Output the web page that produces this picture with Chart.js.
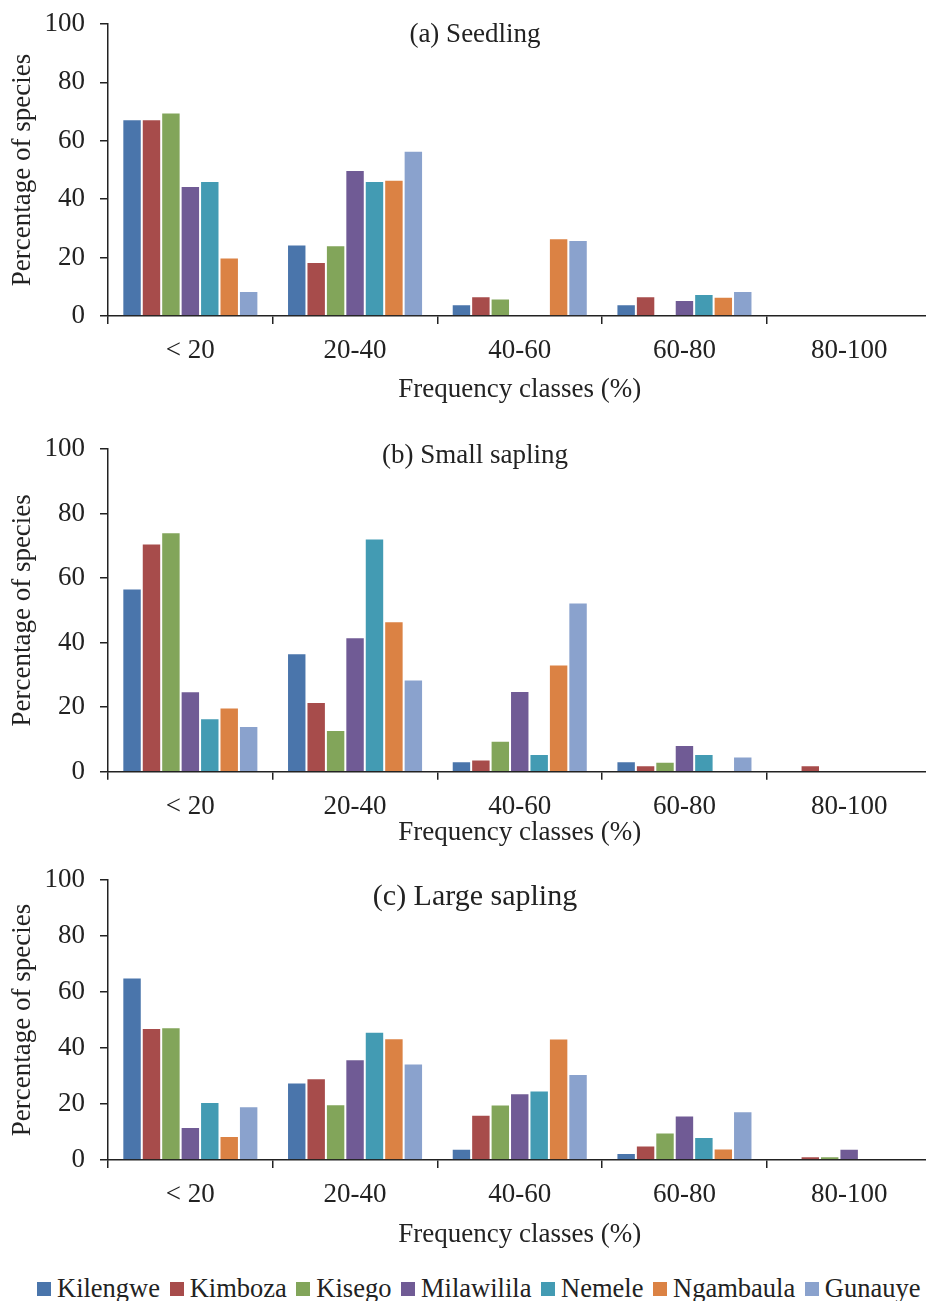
<!DOCTYPE html>
<html>
<head>
<meta charset="utf-8">
<script src="https://cdn.jsdelivr.net/npm/chart.js@4.4.1/dist/chart.umd.min.js"></script>
<style>
  html, body { margin:0; padding:0; background:#fff; width:926px; height:1301px; overflow:hidden; position:relative; }
  .pane { position:absolute; left:0; width:940px; }
  #legend { position:absolute; left:37px; top:1273px; display:flex; white-space:nowrap;
    font-family:"Liberation Serif","Times New Roman",serif; font-size:26.5px; color:#222; line-height:30px; }
  #legend .item { display:flex; align-items:center; margin-right:9.6px; }
  #legend .sw { width:14px; height:14px; margin-right:6px; margin-top:2px; }
</style>
</head>
<body>
<div class="pane" style="top:0;height:410px"><canvas id="ca"></canvas></div>
<div class="pane" style="top:410px;height:443px"><canvas id="cb"></canvas></div>
<div class="pane" style="top:853px;height:402px"><canvas id="cc"></canvas></div>
<div id="legend"></div>
<script>
// ---- data ----
const categories = ["< 20", "20-40", "40-60", "60-80", "80-100"];
const sites = ["Kilengwe", "Kimboza", "Kisego", "Milawilila", "Nemele", "Ngambaula", "Gunauye"];
const colors = ["#4A75AB", "#A74C4B", "#82A55A", "#705B95", "#439BB3", "#DB8244", "#8AA2CD"];
const yTicks = [0, 20, 40, 60, 80, 100];

// (a) Seedling: values per site across categories
const seedlingKilengwe   = [67.4, 24.5, 4.0, 4.0, 0];
const seedlingKimboza    = [67.4, 18.5, 6.8, 6.8, 0];
const seedlingKisego     = [69.7, 24.2, 6.0, 0, 0];
const seedlingMilawilila = [44.5, 50.0, 0, 5.5, 0];
const seedlingNemele     = [46.2, 46.2, 0, 7.5, 0];
const seedlingNgambaula  = [20.0, 46.7, 26.6, 6.6, 0];
const seedlingGunauye    = [8.6, 56.6, 26.0, 8.6, 0];

// (b) Small sapling
const smallKilengwe   = [56.8, 36.7, 3.2, 3.2, 0];
const smallKimboza    = [70.7, 21.6, 3.8, 2.0, 2.0];
const smallKisego     = [74.2, 12.9, 9.6, 3.1, 0];
const smallMilawilila = [24.9, 41.7, 25.0, 8.3, 0];
const smallNemele     = [16.6, 72.3, 5.5, 5.5, 0];
const smallNgambaula  = [19.9, 46.6, 33.2, 0, 0];
const smallGunauye    = [14.2, 28.6, 52.4, 4.7, 0];

// (c) Large sapling
const largeKilengwe   = [65.2, 27.7, 4.0, 2.5, 0];
const largeKimboza    = [47.1, 29.2, 16.2, 5.2, 1.3];
const largeKisego     = [47.4, 19.9, 19.8, 9.8, 1.3];
const largeMilawilila = [11.8, 36.0, 23.8, 15.9, 4.0];
const largeNemele     = [20.7, 45.8, 24.8, 8.2, 0];
const largeNgambaula  = [8.6, 43.5, 43.4, 4.1, 0];
const largeGunauye    = [19.2, 34.5, 30.7, 17.4, 0];

const panelTitles = ["(a) Seedling", "(b) Small sapling", "(c) Large sapling"];
const xTitle = "Frequency classes (%)";
const yTitle = "Percentage of species";

// ---- chart building ----
const SERIF = '"Liberation Serif","Times New Roman",serif';
const INK = '#222';
const FS = 27;

const panelTitlePlugin = {
  id: 'panelTitle',
  afterDraw(chart, args, opts) {
    const ctx = chart.ctx;
    ctx.save();
    ctx.font = opts.size + 'px ' + SERIF;
    ctx.fillStyle = INK;
    ctx.textAlign = 'center';
    ctx.textBaseline = 'middle';
    ctx.fillText(opts.text, opts.x, opts.y);
    ctx.restore();
  }
};

function makeChart(id, seriesList, title, titleY, titleSize, padTop, xHeight) {
  const datasets = sites.map((s, i) => ({
    label: s,
    data: seriesList[i],
    backgroundColor: colors[i],
    borderColor: 'rgba(255,255,255,0.55)',
    borderWidth: 1,
    categoryPercentage: 0.826,
    barPercentage: 1.0
  }));
  return new Chart(document.getElementById(id), {
    type: 'bar',
    data: { labels: categories, datasets },
    plugins: [panelTitlePlugin],
    options: {
      responsive: true,
      maintainAspectRatio: false,
      animation: false,
      layout: { padding: { top: padTop, right: 8.5, bottom: 0, left: 0 } },
      plugins: {
        legend: { display: false },
        tooltip: { enabled: false },
        panelTitle: { text: title, x: 475, y: titleY, size: titleSize }
      },
      scales: {
        x: {
          grid: { display: true, drawOnChartArea: false, drawTicks: true, tickLength: 8, color: INK, lineWidth: 1.5, offset: true },
          border: { display: true, color: INK, width: 1.5 },
          ticks: { color: INK, font: { family: SERIF, size: FS, lineHeight: 1.2 }, padding: 11, maxRotation: 0 },
          title: { display: true, text: xTitle, color: INK, font: { family: SERIF, size: FS, lineHeight: 1.2 }, padding: { top: 0, bottom: 4 } },
          afterFit(scale) { scale.height = xHeight; }
        },
        y: {
          min: 0, max: 100,
          afterBuildTicks(scale) { scale.ticks = yTicks.map(v => ({ value: v })); },
          grid: { display: true, drawOnChartArea: false, drawTicks: true, tickLength: 8, color: INK, lineWidth: 1.5 },
          border: { display: true, color: INK, width: 1.5 },
          ticks: { color: INK, font: { family: SERIF, size: FS, lineHeight: 0.5 }, padding: 15 },
          title: { display: true, text: yTitle, color: INK, font: { family: SERIF, size: FS, lineHeight: 1.2 }, padding: { top: 7, bottom: 0 } },
          afterFit(scale) { scale.width = 108; }
        }
      }
    }
  });
}

makeChart('ca', [seedlingKilengwe, seedlingKimboza, seedlingKisego, seedlingMilawilila, seedlingNemele, seedlingNgambaula, seedlingGunauye],
  panelTitles[0], 35, 27, 24, 94);
makeChart('cb', [smallKilengwe, smallKimboza, smallKisego, smallMilawilila, smallNemele, smallNgambaula, smallGunauye],
  panelTitles[1], 46, 27, 39, 81.3);
makeChart('cc', [largeKilengwe, largeKimboza, largeKisego, largeMilawilila, largeNemele, largeNgambaula, largeGunauye],
  panelTitles[2], 44, 30, 27, 95);

// legend
const leg = document.getElementById('legend');
sites.forEach((s, i) => {
  const it = document.createElement('div'); it.className = 'item';
  const sw = document.createElement('span'); sw.className = 'sw'; sw.style.background = colors[i];
  const tx = document.createElement('span'); tx.textContent = s;
  it.appendChild(sw); it.appendChild(tx); leg.appendChild(it);
});
</script>
</body>
</html>
